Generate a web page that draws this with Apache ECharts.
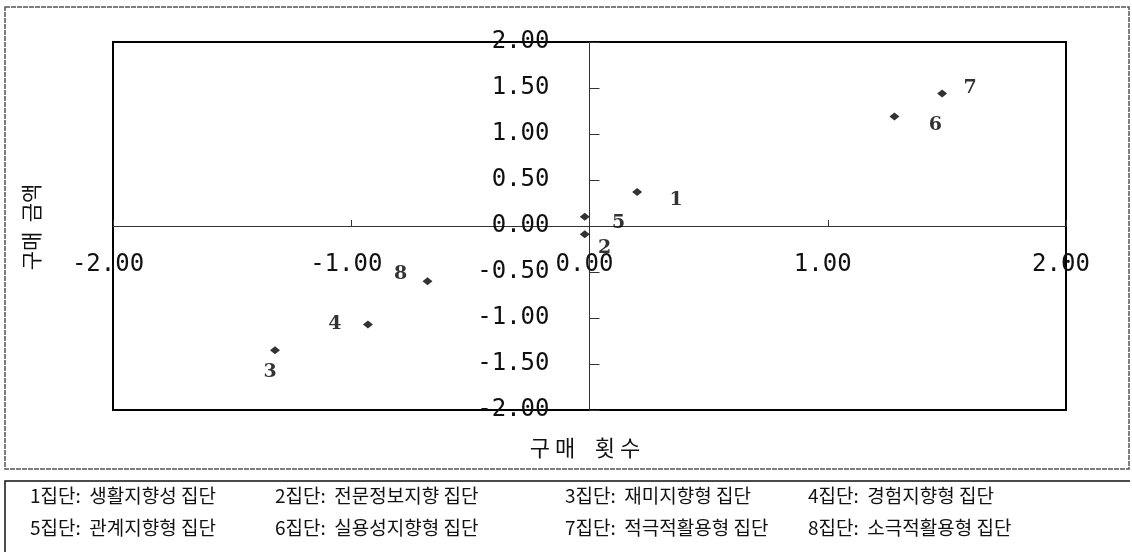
<!DOCTYPE html>
<html>
<head>
<meta charset="utf-8">
<title>구매 횟수 - 구매 금액 집단 분포</title>
<script src="https://cdn.jsdelivr.net/npm/echarts@6/dist/echarts.min.js"></script>
<style>
	html, body { margin: 0; height: 100%; background: #fff; }
	#main { width: 1132px; height: 552px; }
</style>
</head>
<body>
<div id="main"></div>
<script>
	// 집단 번호와 좌표 (x: 구매 횟수, y: 구매 금액)
	var groupIds = ['1', '2', '3', '4', '5', '6', '7', '8'];
	var countScores = [0.20, -0.02, -1.32, -0.93, -0.02, 1.28, 1.48, -0.68];
	var amountScores = [0.37, -0.09, -1.35, -1.07, 0.10, 1.19, 1.44, -0.60];
	var groupNames = ['생활지향성 집단', '전문정보지향 집단', '재미지향형 집단', '경험지향형 집단',
		'관계지향형 집단', '실용성지향형 집단', '적극적활용형 집단', '소극적활용형 집단'];

	// 번호 라벨 위치 (점 기준)
	var labelOffsets = [[39, 8], [20, 14], [-5, 22], [-33, 0], [34, 6], [41, 9], [28, -5], [-27, -7]];
	var legendCols = [30, 275, 565, 808];
	var legendRows = [496, 528];

	var GRID = { left: 113, top: 42, right: 66, bottom: 142 };
	var PLOT_W = 1132 - GRID.left - GRID.right;
	var PLOT_H = 552 - GRID.top - GRID.bottom;

	var myChart = echarts.init(document.getElementById('main'));

	var tickFont = {
		fontFamily: 'DejaVu Sans Mono',
		fontSize: 24,
		color: '#111'
	};
	function fmt(v) { return v.toFixed(2); }

	var points = groupIds.map(function (id, i) {
		return {
			name: id,
			value: [countScores[i], amountScores[i]],
			label: { offset: labelOffsets[i] }
		};
	});

	var legendTexts = groupIds.map(function (id, i) {
		return {
			type: 'text',
			x: legendCols[i % 4],
			y: legendRows[Math.floor(i / 4)],
			style: {
				text: id + '집단:  ' + groupNames[i],
				font: '19px "Noto Sans CJK KR"',
				fill: '#111',
				textVerticalAlign: 'middle'
			}
		};
	});

	var option = {
		animation: false,
		grid: {
			left: GRID.left,
			top: GRID.top,
			right: GRID.right,
			bottom: GRID.bottom,
			show: true,
			borderColor: '#000',
			borderWidth: 2
		},
		xAxis: [{
			// 0 위치의 축선과 눈금
			type: 'value',
			min: -2,
			max: 2,
			interval: 1,
			axisLine: { onZero: true, lineStyle: { color: '#333', width: 1 } },
			axisTick: { inside: true, length: 6, lineStyle: { color: '#333' } },
			splitLine: { show: false },
			axisLabel: { show: false }
		}, {
			// 눈금 라벨만 (0 위치로 올림)
			type: 'value',
			min: -2,
			max: 2,
			interval: 1,
			position: 'bottom',
			offset: -PLOT_H / 2,
			axisLine: { show: false },
			axisTick: { show: false },
			splitLine: { show: false },
			axisLabel: Object.assign({ margin: 27, padding: [0, 10, 0, 0], formatter: fmt }, tickFont)
		}],
		yAxis: [{
			type: 'value',
			min: -2,
			max: 2,
			interval: 0.5,
			axisLine: { onZero: true, lineStyle: { color: '#333', width: 1 } },
			axisTick: { inside: true, length: 10, lineStyle: { color: '#333' } },
			splitLine: { show: false },
			axisLabel: { show: false }
		}, {
			type: 'value',
			min: -2,
			max: 2,
			interval: 0.5,
			position: 'left',
			offset: -PLOT_W / 2,
			axisLine: { show: false },
			axisTick: { show: false },
			splitLine: { show: false },
			axisLabel: Object.assign({ margin: 40, formatter: fmt }, tickFont)
		}],
		graphic: [
			{
				type: 'rect',
				shape: { x: 5, y: 7, width: 1124, height: 462 },
				style: { fill: 'none', stroke: '#555', lineWidth: 1.5, lineDash: [5, 1] },
				silent: true
			},
			{
				type: 'polyline',
				shape: { points: [[5, 552], [5, 481], [1130, 481]] },
				style: { fill: 'none', stroke: '#111', lineWidth: 1.5 },
				silent: true
			},
			{
				type: 'text',
				x: 31,
				y: 227,
				rotation: Math.PI / 2,
				style: {
					text: '구매  금액',
					font: '21px "Noto Sans CJK KR"',
					fill: '#111',
					textAlign: 'center',
					textVerticalAlign: 'middle'
				}
			},
			{
				type: 'text',
				x: 585,
				y: 448,
				style: {
					text: '구 매    횟 수',
					font: '22px "Noto Sans CJK KR"',
					fill: '#111',
					textAlign: 'center',
					textVerticalAlign: 'middle'
				}
			}
		].concat(legendTexts),
		series: [{
			type: 'scatter',
			xAxisIndex: 0,
			yAxisIndex: 0,
			symbol: 'diamond',
			symbolSize: [10, 8],
			itemStyle: { color: '#000' },
			label: {
				show: true,
				position: 'inside',
				formatter: '{b}',
				fontFamily: 'DejaVu Serif',
				fontWeight: 'bold',
				fontSize: 19,
				color: '#000'
			},
			data: points
		}]
	};
	myChart.setOption(option);
</script>
</body>
</html>
